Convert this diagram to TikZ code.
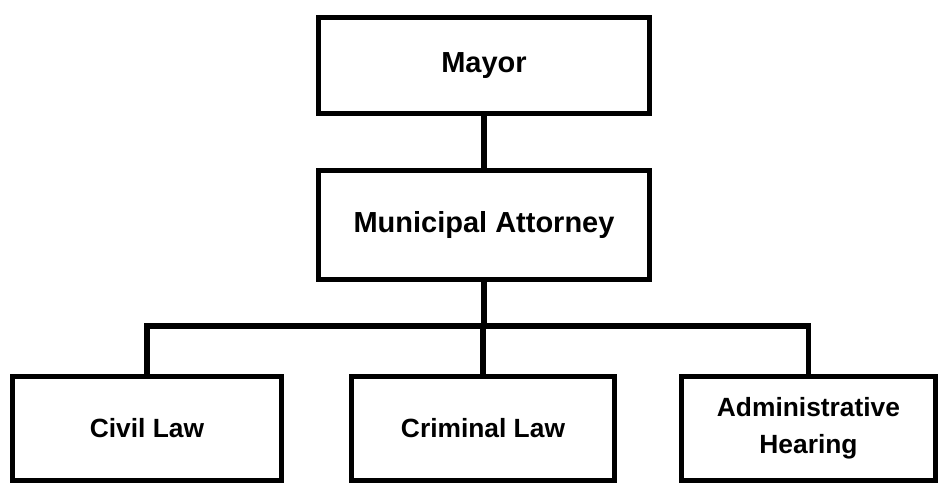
\documentclass[tikz,border=0pt]{standalone}
\usepackage{fontspec}
\setmainfont{Liberation Sans}
\usepackage{tikz}

\tikzset{
	unit/.style={draw, line width=2.9pt, align=center, font=\bfseries\fontsize{16.5}{19}\selectfont},
	subunit/.style={unit, minimum height=2.08cm, font=\bfseries\fontsize{15}{21}\selectfont},
	link/.style={line width=2.9pt}
}

\begin{document}
\begin{tikzpicture}
		\useasboundingbox (0,0) rectangle (18.88,-9.78);
		
		\node[unit, minimum width=6.62cm, minimum height=1.92cm] (mayor) at (9.68,-1.31) {Mayor};
		\node[unit, minimum width=6.62cm, minimum height=2.18cm] (attorney) at (9.68,-4.5) {Municipal Attorney};
		
		\node[subunit, minimum width=5.38cm] (civil) at (2.94,-8.57) {Civil Law};
		\node[subunit, minimum width=5.26cm] (criminal) at (9.66,-8.57) {Criminal Law};
		\node[subunit, minimum width=5.08cm] (admin) at (16.17,-8.57) {Administrative\\Hearing};
		
		\coordinate (bus) at (0,-6.52);
		\draw[link] (mayor) -- (attorney);
		\draw[link] (attorney.south) -- (attorney.south |- bus);
		\draw[link, line cap=rect] (civil.north) -- (civil.north |- bus) -- (admin.north |- bus) -- (admin.north);
		\draw[link] (criminal.north) -- (criminal.north |- bus);
		\end{tikzpicture}
\end{document}
